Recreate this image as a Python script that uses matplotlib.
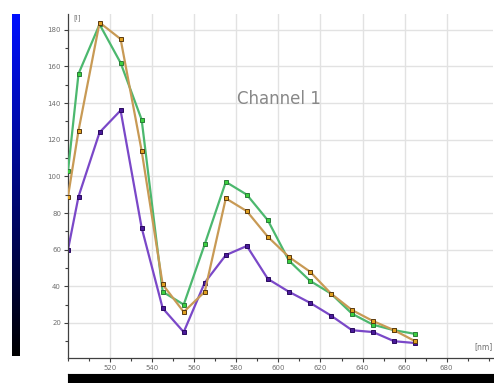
import numpy as np
import matplotlib.pyplot as plt
from matplotlib.ticker import MultipleLocator

# wavelengths [nm]
wl = [500, 505, 515, 525, 535, 545, 555, 565, 575, 585, 595, 605, 615, 625, 635, 645, 655, 665]

green = [103, 156, 183, 162, 131, 37, 30, 63, 97, 90, 76, 54, 43, 36, 25, 19, 16, 14]
orange = [89, 125, 184, 175, 114, 41, 26, 37, 88, 81, 67, 56, 48, 36, 27, 21, 16, 10]
purple = [60, 89, 124, 136, 72, 28, 15, 42, 57, 62, 44, 37, 31, 24, 16, 15, 10, 9]

W, H = 494, 383
fig = plt.figure(figsize=(W / 100, H / 100), dpi=100)

ax = fig.add_axes([68 / W, 1 - 357.7 / H, (493 - 68) / W, (357.7 - 14.3) / H])
ax.plot(wl, green, color="#4cb86e", lw=1.6, marker="s", ms=3.2,
        mfc="#3cd040", mec="#2a7a3a", mew=0.7, zorder=3)
ax.plot(wl, orange, color="#c89a55", lw=1.6, marker="s", ms=3.2,
        mfc="#e0a020", mec="#5a3a10", mew=0.7, zorder=3)
ax.plot(wl, purple, color="#7a48c8", lw=1.6, marker="s", ms=3.2,
        mfc="#4a1a9a", mec="#2a0a60", mew=0.7, zorder=2)

ax.set_xlim(500, 702)
ax.set_ylim(1, 188.5)
ax.xaxis.set_minor_locator(MultipleLocator(10))
ax.yaxis.set_minor_locator(MultipleLocator(10))
ax.set_xticks([520, 540, 560, 580, 600, 620, 640, 660, 680])
ax.set_yticks([20, 40, 60, 80, 100, 120, 140, 160, 180])
ax.grid(True, which="major", color="#e2e2e2", lw=1.0)
ax.tick_params(which="both", direction="out", colors="#404040", labelsize=5,
               labelcolor="#707070", length=3, width=0.8, pad=2)
ax.tick_params(which="minor", length=2)
for s in ["top", "right"]:
    ax.spines[s].set_visible(False)
for s in ["left", "bottom"]:
    ax.spines[s].set_color("#404040")
    ax.spines[s].set_linewidth(0.9)

fig.text(236.7 / W, 1 - 99 / H, "Channel 1", fontsize=12, color="#888888",
         va="center", ha="left")
fig.text(73 / W, 1 - 18 / H, "[I]", fontsize=5, color="#707070", va="center")
fig.text(474 / W, 1 - 347 / H, "[nm]", fontsize=5.5, color="#707070", va="center")

# colour bar on the left
cax = fig.add_axes([11.5 / W, 1 - 356 / H, 8 / W, (356 - 14.3) / H])
grad = np.linspace(1, 0, 256).reshape(-1, 1)
cmap = plt.matplotlib.colors.LinearSegmentedColormap.from_list("bk", ["#000000", "#0010ff"])
cax.imshow(grad, aspect="auto", cmap=cmap, vmin=0, vmax=1)
cax.axis("off")

# black bar at the bottom
bax = fig.add_axes([67.7 / W, 0, (W - 67.7) / W, (H - 374.3) / H])
bax.set_facecolor("black")
bax.set_xticks([])
bax.set_yticks([])

fig.savefig("out.png", dpi=100)
